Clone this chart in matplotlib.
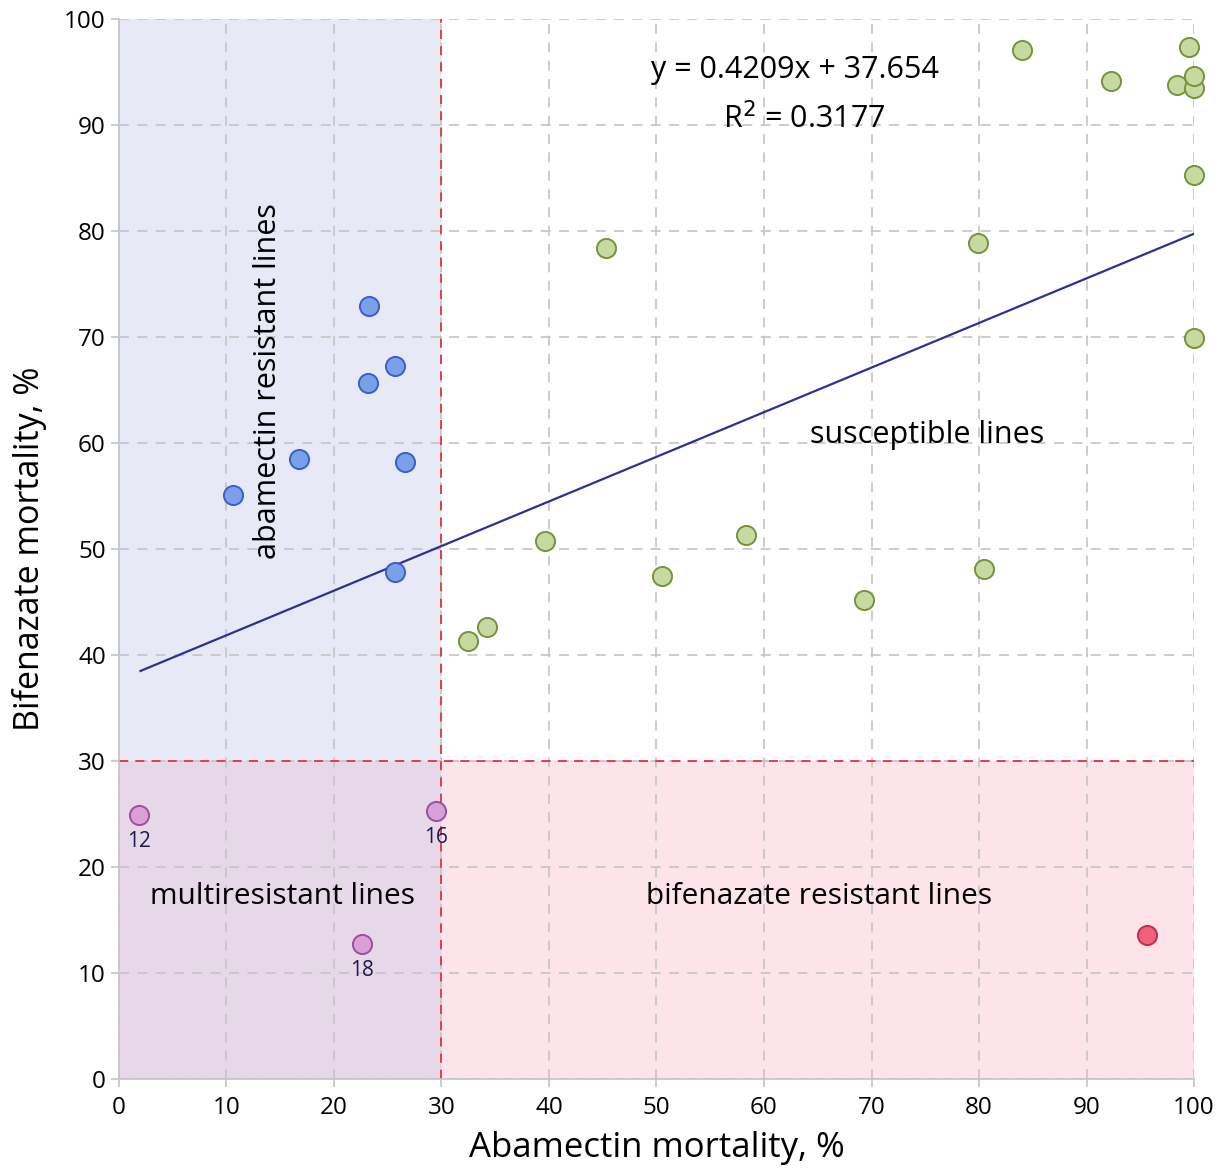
import matplotlib
matplotlib.use("Agg")
import matplotlib.pyplot as plt
import numpy as np

plt.rcParams['font.family'] = ['Open Sans', 'DejaVu Sans']

# Data
blue_x = [10.6, 16.7, 23.3, 23.2, 25.7, 26.6, 25.7]
blue_y = [55.1, 58.5, 72.9, 65.7, 67.3, 58.2, 47.8]
purple_x = [1.9, 29.5, 22.6]
purple_y = [24.9, 25.3, 12.7]
purple_labels = ["12", "16", "18"]
red_x = [95.6]
red_y = [13.6]
green_x = [32.5, 34.2, 39.6, 45.3, 50.5, 58.3, 69.3, 79.9, 80.5, 84.0, 92.3, 98.4, 99.5, 100, 100, 100, 100]
green_y = [41.3, 42.6, 50.8, 78.4, 47.5, 51.3, 45.2, 78.9, 48.1, 97.1, 94.2, 93.8, 97.4, 93.5, 94.6, 85.3, 69.9]
slope, intercept = 0.4209, 37.654
fit_x = [2, 100]
ticks = list(range(0, 101, 10))

fig = plt.figure(figsize=(12.24, 11.69), dpi=100)
ax = fig.add_axes([0.0972, 0.0770, 0.8783, 0.9067])
ax.set_xlim(0, 100)
ax.set_ylim(0, 100)

# Regions
ax.fill_between([0, 30], 30, 100, color='#e8e9f7', zorder=0, linewidth=0)
ax.fill_between([0, 30], 0, 30, color='#e6d8e8', zorder=0, linewidth=0)
ax.fill_between([30, 100], 0, 30, color='#fce4ea', zorder=0, linewidth=0)

ax.set_xticks(ticks)
ax.set_yticks(ticks)
ax.grid(True, color='#c4c4c4', linestyle=(0, (6, 5)), linewidth=1.2, zorder=1)
ax.set_axisbelow(True)

ax.plot([30, 30], [0, 100], color='#e8303a', linestyle=(0, (5, 4)), linewidth=1.3, zorder=2)
ax.plot([0, 100], [30, 30], color='#e8303a', linestyle=(0, (5, 4)), linewidth=1.3, zorder=2)

fx = np.array(fit_x, dtype=float)
ax.plot(fx, slope * fx + intercept, color='#2e3192', linewidth=1.6, zorder=3)

kw = dict(s=190, linewidths=1.4, zorder=4, clip_on=False)
ax.scatter(green_x, green_y, facecolor='#c5d9a0', edgecolor='#77933c', **kw)
ax.scatter(blue_x, blue_y, facecolor='#7aa0e8', edgecolor='#3a5fcd', **kw)
ax.scatter(purple_x, purple_y, facecolor='#d9a0d8', edgecolor='#9a4f9e', **kw)
ax.scatter(red_x, red_y, facecolor='#f06080', edgecolor='#c0304a', **kw)

for x, y, t in zip(purple_x, purple_y, purple_labels):
    ax.text(x, y - 2.5, t, ha='center', va='center', fontsize=15, color='#1a1a4e', zorder=5)

for s in ['top', 'right']:
    ax.spines[s].set_visible(False)
for s in ['left', 'bottom']:
    ax.spines[s].set_color('#c4c4c4')
    ax.spines[s].set_linewidth(1.2)
ax.tick_params(axis='both', colors='#c4c4c4', labelcolor='black', labelsize=17.5, length=6, width=1.2)
ax.tick_params(axis='x', pad=6)

ax.set_xlabel('Abamectin mortality, %', fontsize=25, labelpad=8)
ax.set_ylabel('Bifenazate mortality, %', fontsize=24.5, labelpad=12)

ax.text(62.9, 95.2, 'y = 0.4209x + 37.654', fontsize=22, ha='center', va='center')
ax.text(63.7, 90.6, 'R$^2$ = 0.3177', fontsize=22, ha='center', va='center')
ax.text(75.2, 60.8, 'susceptible lines', fontsize=22, ha='center', va='center')
ax.text(13.9, 65.8, 'abamectin resistant lines', fontsize=22, ha='center', va='center', rotation=90)
ax.text(15.2, 17.2, 'multiresistant lines', fontsize=21.5, ha='center', va='center')
ax.text(65.1, 17.2, 'bifenazate resistant lines', fontsize=21.5, ha='center', va='center')

fig.savefig('out.png', dpi=100)
